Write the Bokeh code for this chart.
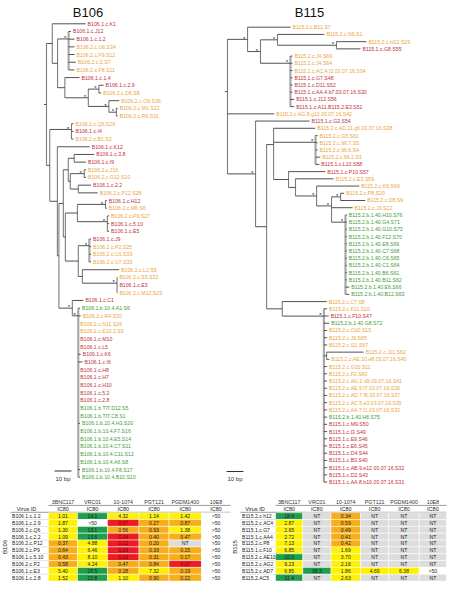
import math
from bokeh.plotting import figure
from bokeh.models import Range1d
from bokeh.embed import file_html
from bokeh.resources import INLINE
from bokeh.core.properties import value

# ------------------------------------------------------------------ data
# Phylogenies as Newick strings (branch lengths in bp, "*" = supported node)
B106_CLADE_A = ("(B106.1.c.K1:19.6,((B106.1.c.J12:1.4,B106.1.c.1.2:3.5,B106.2.c.U6.S34:3.5,"
                "B106.2.c.F9.S12:3.5,B106.2.c.2.S7:4.3,B106.2.c.F8.S11:3.5)*:6.5,"
                "(B106.1.c.1.4:8.6,((B106.1.c.2.9:2.8,B106.2.c.D6.S8:1.4)*:6.2,"
                "(B106.2.c.O9.S36:6.1,(B106.2.c.M1.S22:0.8,B106.2.c.R6.S31:0.8)*:4.4)*:12.1)*:13.8):4.3):3.1):3.4")
B106_CLADE_Q = "(B106.2.c.Q6.S29:1.2,B106.1.c.I4:1.2,B106.2.c.B1.S3:1.2)*:12.8"
B106_CLADE_C38JP = ("((B106.1.c.3.8:11.8,B106.1.c.I9:6.9):3.5,((B106.2.c.J10:1.0,B106.2.c.O12.S10:1.0)*:8.2,"
                    "(B106.1.c.2.2:7.5,B106.2.c.P12.S28:11.4):4.7):1.2):2.9")
B106_CLADE_HL = ("(((B106.1.c.H12:0.8,B106.2.c.M6.S6:0.8)*:16.5,(B106.2.c.P9.S27:1.0,B106.1.c.5.10:1.0,"
                 "B106.1.c.E5:1.0)*:17.6):7.1,((B106.1.c.J9:1.0,B106.2.c.P2.S25:1.0,B106.2.c.U1.S33:1.0,"
                 "B106.2.c.U7.S35:1.0)*:6.5,(B106.2.c.L2.S5:21.6,(B106.2.c.S3.S32:0.2,B106.1.c.E3:0.2,"
                 "B106.2.c.M12.S23:0.2)*:20.4):2.4):7.6):1.2")
B106_CLADE_COMB = ("(B106.1.b.10.4.A1.S6:1.0,B106.2.c.R4.S30:1.4,B106.2.c.N11.S24:0,B106.2.c.E10.2.S9:0,"
                   "B106.1.c.M10:0,B106.1.c.L5:0,B106.1.c.K6:1.4,B106.1.c.I6:2.5,B106.1.c.H8:0,B106.1.c.H7:0,"
                   "B106.1.c.H10:0,B106.1.c.5.2:0,B106.1.c.2.8:0,B106.1.b.TIT.D12.S5:0,B106.1.b.TIT.C8.S1:0,"
                   "B106.1.b.10.4.H3.S20:1.0,B106.1.b.10.4.F7.S16:0,B106.1.b.10.4.E5.S14:0,"
                   "B106.1.b.10.4.C7.S11:0,B106.1.b.10.4.C11.S12:0,B106.1.b.10.4.A6.S8:0,"
                   "B106.1.b.10.4.F8.S17:1.0,B106.1.b.10.4.B10.S10:1.0)*:3.5")
B106_TREE = ("(" + B106_CLADE_A + ",(" + B106_CLADE_Q + ",(B106.1.c.K12:19.0,((" + B106_CLADE_C38JP + ","
             + B106_CLADE_HL + "):2.6,(B106.1.c.C1:6.5," + B106_CLADE_COMB + ")*:7.9):0.9):4.5):1.9);")

B115_CLADE_T1 = ("(B115.2.c.B11.S7:25.3,((B115.2.c.N6.S1:27.6,(B115.2.c.H12.S19:17.6,B115.1.c.G8.S55:14.1)*:34.7)*:10.0,"
                 "(B115.2.c.J4.S69:1.2,B115.2.c.J4.S64:1.2,B115.2.c.AC.4.f2.03.07.16.S34:1.2,B115.1.c.G7.S48:1.2,"
                 "B115.1.c.D11.S52:1.2,B115.1.c.AA.4.b7.03.07.16.S30:1.2,B115.1.c.J12.S56:2.2,"
                 "B115.1.c.A11.B115.2.E3.S51:2.2)*:17.6)*:7.6)*:11.8")
B115_CLADE_GREEN = ("(B115.2.b.1.40.H10.S76:0.8,B115.2.b.1.40.G4.S71:0.8,B115.2.b.1.40.G10.S73:0.8,"
                    "B115.2.b.1.40.F12.S70:0.8,B115.2.b.1.40.E8.S69:0.8,B115.2.b.1.40.C7.S68:0.8,"
                    "B115.2.b.1.40.C6.S65:0.8,B115.2.b.1.40.C1.S64:0.8,B115.2.b.1.40.B6.S61:0.8,"
                    "B115.2.b.1.40.B11.S62:0.8,B115.2.b.1.40.E6.S66:2.2,B115.2.b.1.40.B12.S63:2.2)*:8.2")
B115_CLADE_T8 = ("(B115.2.c.AD.11.g6.03.07.16.S38:24.5,(B115.2.c.G5.S61:1.2,B115.2.c.96.7.S5:1.2,"
                 "B115.2.c.96.6.S4:1.2,B115.2.c.96.2.S3:2.8,B115.1.c.L10.S58:2.2)*:24.7,"
                 "(B115.1.c.P10.S57:21.6,(B115.2.c.E3.S59:22.4,(B115.2.c.K6.S66:25.1,"
                 "((B115.2.c.P8.S20:2.2,B115.2.c.D8.S9:14.5)*:5.3,B115.2.c.J3.S12:12.4,"
                 + B115_CLADE_GREEN + ")*:8.8)*:12.4):4.1):8.8):4.1")
B115_CLADE_BIG = ("(B115.2.c.F11.S10:1.9,B115.1.c.F10.S47:2.8,B115.2.b.1.40.G8.S72:3.2,B115.2.c.O10.S15:1.9,"
                  "B115.2.c.J6.S65:1.9,B115.2.c.I11.S67:1.9,(B115.2.c.J11.S62:21.8,"
                  "B115.2.c.AE.10.e8.03.07.16.S40:1.6):1.6,B115.2.c.G10.S11:1.9,B115.2.c.F2.S60:1.9,"
                  "B115.2.c.AG.2.d9.03.07.16.S41:1.9,B115.2.c.AE.5.f7.03.07.16.S39:1.9,"
                  "B115.2.c.AD.7.f5.03.07.16.S37:1.9,B115.2.c.AC.5.e3.03.07.16.S35:1.9,"
                  "B115.2.c.AA.7.f1.03.07.16.S33:1.9,B115.2.b.1.40.H6.S75:1.9,B115.1.c.M9.S50:1.9,"
                  "B115.1.c.I3.S49:1.9,B115.1.c.E9.S46:1.9,B115.1.c.E6.S45:1.9,B115.1.c.D4.S44:1.9,"
                  "B115.1.c.B3.S40:1.9,B115.1.c.AB.9.e12.03.07.16.S32:1.9,B115.1.c.D2.S43:1.9,"
                  "B115.1.c.AA.8.b10.03.07.16.S31:1.9)*:24.5")
B115_TREE = ("(" + B115_CLADE_T1 + ",B115.2.c.AG.8.g10.03.07.16.S42:27.5,(B115.1.c.G2.S54:31.8,("
             + B115_CLADE_T8 + ",(B115.2.c.C7.S8:26.2," + B115_CLADE_BIG + "):9.2):6.5)*:16.5);")

TREE_TITLES = ["B106", "B115"]
SCALE_BAR_BP = 10

ANTIBODIES = ["3BNC117", "VRC01", "10-1074", "PGT121", "PGDM1400", "10E8"]
B106_VIRUS_IDS = ["B106.1.c.1.2", "B106.1.c.2.9", "B106.2.c.Q6", "B106.1.c.2.2", "B106.2.c.P12",
                  "B106.2.c.P9", "B106.1.c.5.10", "B106.2.c.P2", "B106.1.c.E3", "B106.1.c.2.8"]
B106_IC80 = [
    ["1.01", "14.1", "4.32", "1.14", "1.42", ">50"],
    ["1.87", ">50", "0.07", "0.27", "0.87", ">50"],
    ["1.30", "13.1", "0.56", "0.93", "1.38", ">50"],
    ["1.09", "13.6", "0.04", "0.40", "0.47", ">50"],
    ["0.37", "4.88", "0.02", "0.20", "NT", ">50"],
    ["0.64", "6.46", "0.03", "0.33", "0.15", ">50"],
    ["0.43", "8.10", "0.03", "0.31", "0.17", ">50"],
    ["0.58", "4.24", "0.47", "0.84", "0.07", ">50"],
    ["5.40", "26.5", "0.28", "7.32", "0.19", ">50"],
    ["1.52", "22.8", "1.10", "0.90", "0.22", ">50"],
]
B115_VIRUS_IDS = ["B115.2.c.h12", "B115.2.c.AC4", "B115.1.c.G7", "B115.1.c.AA4", "B115.2.c.P8",
                  "B115.1.c.F10", "B115.2.c.AE10", "B115.2.c.AG2", "B115.2.c.AD7", "B115.2.AC5"]
B115_IC80 = [
    ["18.4", "NT", "0.34", "NT", "NT", "NT"],
    ["2.87", "NT", "0.59", "NT", "NT", "NT"],
    ["2.65", "NT", "0.49", "NT", "NT", "NT"],
    ["2.72", "NT", "0.41", "NT", "NT", "NT"],
    ["7.13", "NT", "0.42", "NT", "NT", "NT"],
    ["6.85", "NT", "1.69", "NT", "NT", "NT"],
    ["10.0", "NT", "3.70", "NT", "NT", "NT"],
    ["9.23", "NT", "2.16", "NT", "NT", "NT"],
    ["6.85", "38.3", "1.86", "4.69", "6.38", ">50"],
    ["11.4", "NT", "2.63", "NT", "NT", "NT"],
]

# ------------------------------------------------------------------ styles
FONT = value("Liberation Sans")
RED, ORANGE, GREEN = "#c4303c", "#eda43c", "#3f9d3a"
CELL_RED, CELL_ORANGE, CELL_YELLOW, CELL_GREEN, CELL_GRAY = "#ec1c24", "#f8ae1a", "#fff200", "#1f9e4e", "#dddddd"

W, H = 447, 581
p = figure(width=W, height=H, x_range=Range1d(0, W), y_range=Range1d(H, 0),
           x_axis_type=None, y_axis_type=None, toolbar_location=None,
           output_backend="svg", min_border=0, outline_line_color=None)
p.background_fill_color = "white"
p.border_fill_color = "white"


def parse_newick(s):
    s = "".join(s.split())
    pos = 0

    def node():
        nonlocal pos
        n = {"children": [], "name": "", "bl": 0.0}
        if s[pos] == "(":
            pos += 1
            while True:
                n["children"].append(node())
                ch = s[pos]
                pos += 1
                if ch == ")":
                    break
        start = pos
        while s[pos] not in ":,();":
            pos += 1
        n["name"] = s[start:pos]
        if s[pos] == ":":
            pos += 1
            start = pos
            while s[pos] not in ",();":
                pos += 1
            n["bl"] = float(s[start:pos])
        return n

    return node()


def label_color(name):
    parts = name.split(".")
    if parts[2] == "b":
        return GREEN
    return RED if parts[1] == "1" else ORANGE


def draw_tree(newick, root_x, y_top, y_bottom, px_per_bp):
    root = parse_newick(newick)
    leaves = []

    def walk(n):
        if n["children"]:
            for c in n["children"]:
                walk(c)
        else:
            leaves.append(n)

    walk(root)
    dy = (y_bottom - y_top) / (len(leaves) - 1)
    for i, lf in enumerate(leaves):
        lf["y"] = y_top + i * dy

    def place(n, parent_x):
        n["x"] = parent_x + n["bl"] * px_per_bp
        for c in n["children"]:
            place(c, n["x"])
        if n["children"]:
            ys = [c["y"] for c in n["children"]]
            y = ys[-1]
            for yy in reversed(ys[:-1]):
                y = (yy + y) / 2.0
            n["y"] = y

    place(root, root_x)

    hseg, vseg, vcomb, stars = [], [], [], []

    def segs(n, parent):
        if parent is not None:
            hseg.append((parent["x"], n["y"], n["x"], n["y"]))
        if n["children"]:
            v = (n["x"], n["children"][0]["y"], n["x"], n["children"][-1]["y"])
            (vcomb if len(n["children"]) >= 4 else vseg).append(v)
            if n["name"] == "*":
                stars.append((n["x"], n["y"]))
            for c in n["children"]:
                segs(c, n)

    segs(root, None)
    hseg.append((root["x"] - 2.5, root["y"], root["x"], root["y"]))

    def seg(lst, color, width):
        if lst:
            p.segment(x0=[a[0] for a in lst], y0=[a[1] for a in lst],
                      x1=[a[2] for a in lst], y1=[a[3] for a in lst],
                      line_color=color, line_width=width)

    seg(vcomb, "#a9a9a9", 2.2)
    seg(vseg, "#7d7d7d", 1.1)
    seg(hseg, "#3e3e3e", 0.9)

    p.text(x=[lf["x"] + 2 for lf in leaves], y=[lf["y"] for lf in leaves],
           text=[lf["name"] for lf in leaves], text_color=[label_color(lf["name"]) for lf in leaves],
           text_font=FONT, text_font_size="5.2px", text_baseline="middle", text_align="left")
    p.text(x=[s[0] - 3.5 for s in stars], y=[s[1] - 0.8 for s in stars], text=["*"] * len(stars),
           text_color="#222222", text_font=FONT, text_font_size="6px",
           text_baseline="middle", text_align="center")


draw_tree(B106_TREE, 46, 23.3, 476.7, 1.7)
draw_tree(B115_TREE, 227, 26.7, 481.6, 1.7)

# titles
p.text(x=[87.5, 309], y=[11.5, 11.5], text=TREE_TITLES, text_font=FONT, text_font_size="13px",
       text_align="center", text_baseline="alphabetic", text_color="#111111")

# scale bars
for sx, sy in [(54, 470.5), (226, 471)]:
    p.segment(x0=[sx], y0=[sy], x1=[sx + SCALE_BAR_BP * 1.7], y1=[sy], line_color="#333333", line_width=1)
    p.text(x=[sx + SCALE_BAR_BP * 1.7 / 2], y=[sy + 7.5], text=["%d bp" % SCALE_BAR_BP],
           text_font=FONT, text_font_size="6px", text_align="center", text_baseline="middle",
           text_color="#333333")


# ------------------------------------------------------------------ tables
COL_EDGES = [48, 77, 107, 138.5, 168.5, 201, 230]


def cell_fill(v):
    if v == "NT":
        return CELL_GRAY
    if v.startswith(">"):
        return "#ffffff"
    f = float(v)
    if f < 0.1:
        return CELL_RED
    if f < 1:
        return CELL_ORANGE
    if f < 10:
        return CELL_YELLOW
    return CELL_GREEN


def draw_table(ox, sx, title, ids, vals):
    edges = [ox + e * sx for e in COL_EDGES]
    centers = [(a + b) / 2 for a, b in zip(edges[:-1], edges[1:])]
    widths = [b - a for a, b in zip(edges[:-1], edges[1:])]
    row_top, row_h = 512.2, 6.84
    p.text(x=centers, y=[501.6] * 6, text=ANTIBODIES, text_font=FONT,
           text_font_size="5.3px", text_align="center", text_baseline="middle", text_color="#333333")
    p.segment(x0=[edges[0]], y0=[504.9], x1=[edges[-1]], y1=[504.9], line_color="#555555", line_width=0.6)
    p.text(x=[ox + 26 * sx] + centers, y=[508.5] * 7, text=["Virus ID"] + ["IC80"] * 6,
           text_font=FONT, text_font_size="5.5px", text_align="center", text_baseline="middle",
           text_color="#222222")
    p.segment(x0=[ox + 10], y0=[511.8], x1=[edges[-1]], y1=[511.8], line_color="#555555", line_width=0.6)
    xs, ys, ws, fills, txt, tcol = [], [], [], [], [], []
    for r, row in enumerate(vals):
        yc = row_top + row_h * (r + 0.5)
        for c, v in enumerate(row):
            xs.append(centers[c])
            ys.append(yc)
            ws.append(widths[c])
            fills.append(cell_fill(v))
            txt.append(v)
            tcol.append("#7a0000" if cell_fill(v) == CELL_RED else "#222222")
    p.rect(x=xs, y=ys, width=ws, height=row_h, fill_color=fills, line_color="white", line_width=0.5)
    sep_y = [row_top + row_h * (r + 1) for r in range(len(vals) - 1)]
    p.segment(x0=[ox + 10] * len(sep_y), y0=sep_y, x1=[edges[0]] * len(sep_y), y1=sep_y,
              line_color="#bbbbbb", line_width=0.4)
    p.text(x=xs, y=ys, text=txt, text_color=tcol, text_font=FONT, text_font_size="5.1px",
           text_align="center", text_baseline="middle")
    p.text(x=[ox + 11.5] * len(ids), y=[row_top + row_h * (r + 0.5) for r in range(len(ids))], text=ids,
           text_font=FONT, text_font_size="5.1px", text_align="left", text_baseline="middle",
           text_color="#222222")
    p.text(x=[ox + 4.5], y=[row_top + row_h * 5], text=[title], angle=math.pi / 2, text_font=FONT,
           text_font_size="6px", text_align="center", text_baseline="middle", text_color="#222222")


draw_table(0, 1.0, "B106", B106_VIRUS_IDS, B106_IC80)
draw_table(230, (W - 1 - 230) / 230.0, "B115", B115_VIRUS_IDS, B115_IC80)

open("out.html", "w").write(file_html(p, INLINE))
